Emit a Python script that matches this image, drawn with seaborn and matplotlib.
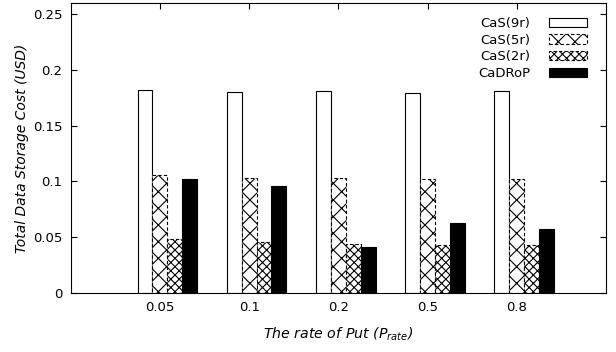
import matplotlib
matplotlib.use('Agg')
import matplotlib.pyplot as plt
import seaborn as sns
import pandas as pd

# data
rates = ['0.05', '0.1', '0.2', '0.5', '0.8']
series = ['CaS(9r)', 'CaS(5r)', 'CaS(2r)', 'CaDRoP']
cas9 = [0.182, 0.180, 0.181, 0.179, 0.181]
cas5 = [0.106, 0.103, 0.103, 0.102, 0.102]
cas2 = [0.048, 0.046, 0.044, 0.043, 0.043]
cadrop = [0.102, 0.096, 0.041, 0.063, 0.057]
yticks = [0, 0.05, 0.1, 0.15, 0.2, 0.25]
ytick_labels = ['0', '0.05', '0.1', '0.15', '0.2', '0.25']

df = pd.concat([
    pd.DataFrame({'rate': rates, 'cost': vals, 'series': name})
    for name, vals in zip(series, [cas9, cas5, cas2, cadrop])
])

sns.set_style('ticks')
plt.rcParams['font.family'] = ['DejaVu Sans']
plt.rcParams.update({
    'hatch.linewidth': 0.8,
    'text.color': 'black',
    'axes.labelcolor': 'black',
    'axes.edgecolor': 'black',
    'xtick.color': 'black',
    'ytick.color': 'black',
})

fig = plt.figure(figsize=(6.16, 3.52), dpi=100)
ax = fig.add_axes([0.1148, 0.1676, 0.869, 0.8239])

sns.barplot(data=df, x='rate', y='cost', hue='series', order=rates,
            hue_order=series, width=4 / 6, legend=False, ax=ax,
            saturation=1, errorbar=None)

# gnuplot-like fills
styles = [
    dict(fc='white', hatch='', ls='solid'),
    dict(fc='white', hatch='xx', ls=(0, (3, 2))),
    dict(fc='white', hatch='xxxx', ls=(0, (3, 2))),
    dict(fc='black', hatch='', ls='solid'),
]
for cont, st in zip(ax.containers, styles):
    for p in cont:
        p.set_facecolor(st['fc'])
        p.set_edgecolor('black')
        p.set_hatch(st['hatch'])
        p.set_linestyle(st['ls'])
        p.set_linewidth(0.8)

# ticks sit half a bar left of the cluster centre, like gnuplot
off = 1 / 12
ax.set_xticks([i - off for i in range(len(rates))])
ax.set_xticklabels(rates)
ax.set_xlim(-1 - off, 5 - off)
ax.set_ylim(0, 0.26)
ax.set_yticks(yticks)
ax.set_yticklabels(ytick_labels)

ax.tick_params(direction='in', length=4, width=0.8, labelsize=9.5,
               top=True, right=True, pad=6)
for s in ax.spines.values():
    s.set_visible(True)
    s.set_linewidth(0.8)

ax.set_xlabel('The rate of Put (P$_{rate}$)', fontsize=10.2, style='italic', labelpad=8)
ax.set_ylabel('Total Data Storage Cost (USD)', fontsize=10, style='italic', labelpad=3)

ax.legend(handles=ax.containers, labels=series, loc='upper right',
          bbox_to_anchor=(0.965, 0.952), frameon=False, markerfirst=False,
          fontsize=9.5, handlelength=2.9, handleheight=0.7, handletextpad=1.4,
          labelspacing=0.28, borderpad=0, borderaxespad=0)

fig.savefig('out.png', dpi=100)
plt.close(fig)
